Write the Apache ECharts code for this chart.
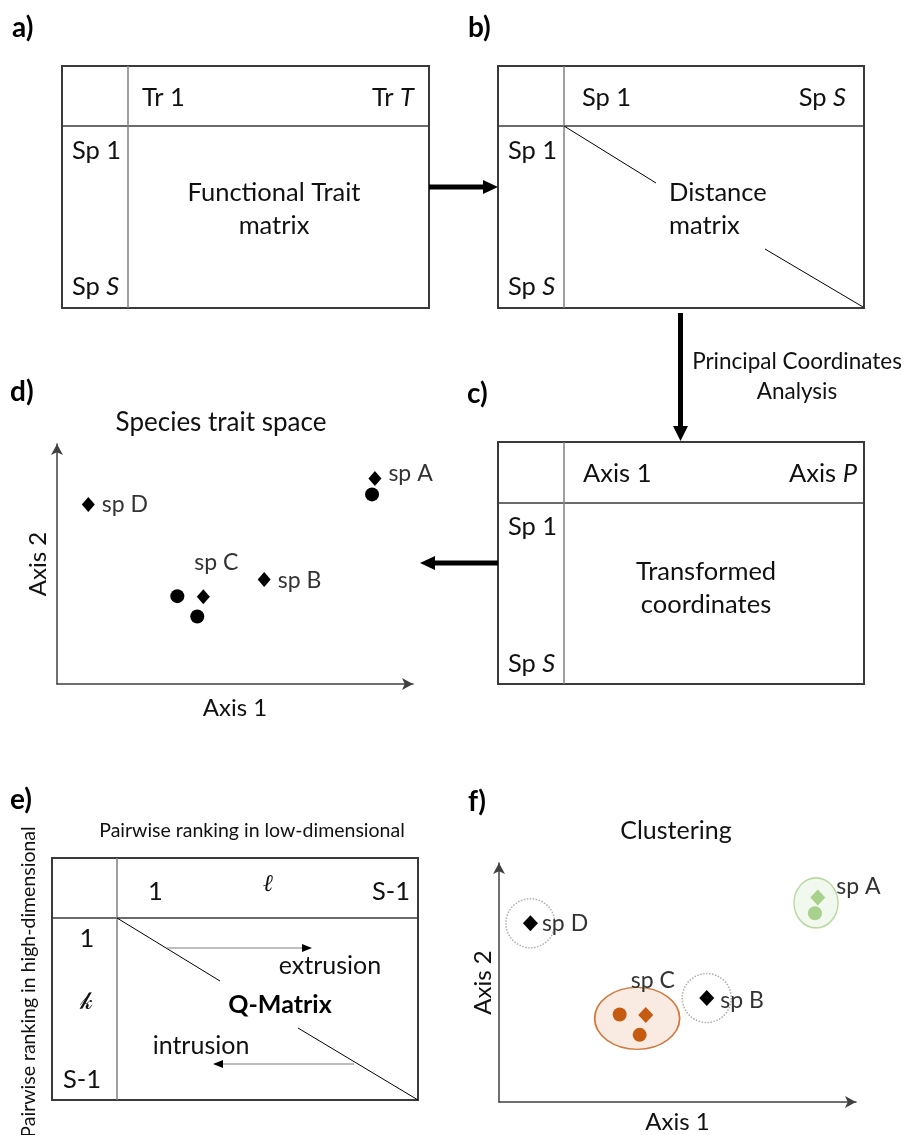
<!DOCTYPE html>
<html>
<head>
<meta charset="utf-8">
<script src="https://cdn.jsdelivr.net/npm/echarts@6/dist/echarts.min.js"></script>
<style>
  html, body { margin: 0; padding: 0; background: #fff; }
  #main { width: 905px; height: 1135px; }
</style>
</head>
<body>
<div id="main"></div>
<script>
// species positions in trait space (axis units 0-100)
var speciesNames = ['sp A', 'sp B', 'sp C', 'sp D'];
var speciesX = [89.3, 58.2, 41.1, 8.8];
var speciesY = [85.6, 43.5, 36.4, 74.8];
// extra individuals (circles) and the species they belong to
var extraOf = ['sp A', 'sp C', 'sp C'];
var extraX = [88.5, 33.8, 39.4];
var extraY = [79.0, 36.6, 28.1];
// clustering result
var clusterNames = ['cluster A', 'cluster C', 'single B', 'single D'];
var clusterX = [88.8, 38.7, 58.2, 8.8];
var clusterY = [83.3, 35.0, 43.5, 74.8];
var speciesCluster = { 'sp A': 0, 'sp B': -1, 'sp C': 1, 'sp D': -1 };

// matrix labels
var traitHeader = ['Tr 1', 'Tr T'];
var distHeader = ['Sp 1', 'Sp S'];
var pcoaHeader = ['Axis 1', 'Axis P'];
var rowLabels = ['Sp 1', 'Sp S'];
var rankHeader = ['1', '\u2113', 'S-1'];
var rankRows = ['1', '\uD835\uDCC0', 'S-1'];

var FONT = 'Lato, "Open Sans", sans-serif';
var INK = '#111';
var MT = 25.5; // matrix text size
var ORANGE = '#C55A11', GREEN = '#A9D18E';

function txt(x, y, s, size, extra) {
  var st = { text: s, fill: INK, fontSize: size, fontFamily: FONT, align: 'left', verticalAlign: 'middle' };
  for (var k in extra) st[k] = extra[k];
  return { type: 'text', x: x, y: y, z: 10, style: st };
}
// header text with italic last letter, e.g. "Tr T"
function itxt(x, y, s, size, align) {
  var parts = s.split(' ');
  return {
    type: 'text', x: x, y: y, z: 10,
    style: {
      text: '{n|' + parts[0] + ' }{i|' + parts[1] + '}',
      align: align, verticalAlign: 'middle',
      rich: {
        n: { fontSize: size, fontFamily: FONT, fill: INK },
        i: { fontSize: size, fontFamily: FONT, fill: INK, fontStyle: 'italic' }
      }
    }
  };
}
function line(x1, y1, x2, y2, color, w) {
  return { type: 'line', z: 5, shape: { x1: x1, y1: y1, x2: x2, y2: y2 }, style: { stroke: color, lineWidth: w } };
}
function poly(pts, color) {
  return { type: 'polygon', z: 6, shape: { points: pts }, style: { fill: color } };
}
function box(x, y, w, h, headY, colX) {
  return [
    { type: 'rect', z: 4, shape: { x: x, y: y, width: w, height: h }, style: { fill: 'none', stroke: '#3a3a3a', lineWidth: 2 } },
    line(x, headY, x + w, headY, '#3a3a3a', 1.5),
    line(colX, y, colX, y + h, '#7f7f7f', 1.5)
  ];
}

var g = [];
// panel letters
[['a)', 12, 28], ['b)', 468, 28], ['c)', 467, 394], ['d)', 10, 392], ['e)', 10, 800], ['f)', 468, 802]].forEach(function (p) {
  g.push(txt(p[1], p[2], p[0], 28, { fontWeight: 'bold', fill: '#000' }));
});

// a) functional trait matrix
g = g.concat(box(62, 66, 367, 242, 126, 128));
g.push(txt(142, 98, traitHeader[0], MT));
g.push(itxt(414, 98, traitHeader[1], MT, 'right'));
g.push(txt(72, 151, rowLabels[0], MT));
g.push(itxt(72, 287, rowLabels[1], MT, 'left'));
g.push(txt(274, 209, 'Functional Trait\nmatrix', MT, { align: 'center', lineHeight: 33 }));

// a -> b arrow
g.push(line(429, 187, 485, 187, '#000', 5));
g.push(poly([[483, 180], [498, 187], [483, 194]], '#000'));

// b) distance matrix
g = g.concat(box(498, 66, 366, 242, 126, 564));
g.push(txt(582, 98, distHeader[0], MT));
g.push(itxt(846, 98, distHeader[1], MT, 'right'));
g.push(txt(508, 151, rowLabels[0], MT));
g.push(itxt(508, 287, rowLabels[1], MT, 'left'));
g.push(line(564, 126, 656, 183, '#000', 1));
g.push(line(765, 249, 863, 307, '#000', 1));
g.push(txt(669, 209, 'Distance\nmatrix', MT, { lineHeight: 33 }));

// b -> c arrow
g.push(line(680.5, 313, 680.5, 428, '#000', 5));
g.push(poly([[673, 426], [680.5, 441], [688, 426]], '#000'));
g.push(txt(797, 377, 'Principal Coordinates\nAnalysis', 22.5, { align: 'center', lineHeight: 30 }));

// c) transformed coordinates
g = g.concat(box(498, 442, 366, 242, 503, 564));
g.push(txt(583, 474, pcoaHeader[0], MT));
g.push(itxt(857, 474, pcoaHeader[1], MT, 'right'));
g.push(txt(508, 527, rowLabels[0], MT));
g.push(itxt(508, 664, rowLabels[1], MT, 'left'));
g.push(txt(706, 588, 'Transformed\ncoordinates', MT, { align: 'center', lineHeight: 33 }));

// c -> d arrow
g.push(line(498, 563, 433, 563, '#000', 5));
g.push(poly([[435, 556], [420, 563], [435, 570]], '#000'));

// d) title
g.push(txt(221, 423, 'Species trait space', 26, { align: 'center' }));

// e) Q-matrix
g.push(txt(252, 831, 'Pairwise ranking in low-dimensional', 19.5, { align: 'center' }));
var vt = txt(29, 982, 'Pairwise ranking in high-dimensional', 19.5, { align: 'center' });
vt.rotation = Math.PI / 2;
g.push(vt);
g = g.concat(box(52, 858, 366, 242, 918, 117));
g.push(txt(148, 892, rankHeader[0], MT));
g.push(txt(268, 885, rankHeader[1], 24, { align: 'center', fontFamily: '"DejaVu Serif", serif', fontStyle: 'italic' }));
g.push(txt(410, 892, rankHeader[2], MT, { align: 'right' }));
g.push(txt(87, 939, rankRows[0], MT, { align: 'center' }));
g.push(txt(86, 1003, rankRows[1], 24, { align: 'center', fontFamily: '"DejaVu Serif", "DejaVu Sans", serif' }));
g.push(txt(82, 1080, rankRows[2], MT, { align: 'center' }));
g.push(line(117, 918, 220, 981, '#000', 1));
g.push(line(298, 1028, 418, 1100, '#000', 1));
g.push(line(167, 948, 304, 948, '#7f7f7f', 1.2));
g.push(poly([[302, 944], [312, 948], [302, 952]], '#000'));
g.push(txt(330, 966, 'extrusion', 25, { align: 'center' }));
g.push(txt(280, 1005, 'Q-Matrix', 25, { align: 'center', fontWeight: 'bold', fill: '#000' }));
g.push(txt(201, 1046, 'intrusion', 25, { align: 'center' }));
g.push(line(354, 1064, 221, 1064, '#7f7f7f', 1.2));
g.push(poly([[223, 1060], [213, 1064], [223, 1068]], '#000'));

// f) title
g.push(txt(676, 831, 'Clustering', 25, { align: 'center' }));

// label placement for the two trait-space panels
var labelD = {
  'sp A': { position: 'right', distance: 7, offset: [0, -5] },
  'sp B': { position: 'right', distance: 7, offset: [0, 1] },
  'sp C': { position: 'top', distance: 5, offset: [13, -10] },
  'sp D': { position: 'right', distance: 7 }
};
var labelF = {
  'sp A': { position: 'right', distance: 11, offset: [0, -11] },
  'sp B': { position: 'right', distance: 6, offset: [0, 3] },
  'sp C': { position: 'top', distance: 5, offset: [7, -10] },
  'sp D': { position: 'right', distance: 4 }
};
var clusterStyle = [
  { symbolSize: [44, 50], itemStyle: { color: '#EEF6E9', borderColor: GREEN, borderWidth: 1.5 } },
  { symbolSize: [85, 62], itemStyle: { color: '#F8E6DB', borderColor: ORANGE, borderWidth: 1.5 } },
  { symbolSize: 49, itemStyle: { color: 'rgba(0,0,0,0)', borderColor: '#9a9a9a', borderWidth: 1.5, borderType: 'dotted' } },
  { symbolSize: 49, itemStyle: { color: 'rgba(0,0,0,0)', borderColor: '#9a9a9a', borderWidth: 1.5, borderType: 'dotted' } }
];
function colorOf(name) {
  var c = speciesCluster[name];
  return c === 0 ? GREEN : c === 1 ? ORANGE : '#000';
}

function axisPair(idx, gap2, gap1, size) {
  var common = {
    gridIndex: idx, type: 'value', min: 0, max: 100,
    nameLocation: 'middle', nameTextStyle: { fontSize: size, fontFamily: FONT, color: INK },
    axisLine: { show: true, symbol: ['none', 'arrow'], symbolSize: [9, 11], lineStyle: { color: '#404040', width: 1.5 } },
    axisTick: { show: false }, axisLabel: { show: false }, splitLine: { show: false }
  };
  return {
    x: Object.assign({}, common, { name: 'Axis 1', nameGap: gap1 }),
    y: Object.assign({}, common, { name: 'Axis 2', nameGap: gap2 })
  };
}
var axD = axisPair(0, 7, 12, 24);
var axF = axisPair(1, 4, 8, 24);

var option = {
  backgroundColor: '#fff',
  animation: false,
  grid: [
    { left: 57, top: 444, width: 356, height: 240 },
    { left: 499, top: 863, width: 357, height: 240 }
  ],
  xAxis: [axD.x, axF.x],
  yAxis: [axD.y, axF.y],
  graphic: g,
  series: [
    {
      type: 'scatter', xAxisIndex: 0, yAxisIndex: 0, symbol: 'diamond', symbolSize: [13, 15],
      itemStyle: { color: '#000', opacity: 1 },
      label: { show: true, formatter: '{b}', fontSize: 23, fontFamily: FONT, color: '#333' },
      data: speciesNames.map(function (n, i) {
        return { name: n, value: [speciesX[i], speciesY[i]], label: labelD[n] };
      })
    },
    {
      type: 'scatter', xAxisIndex: 0, yAxisIndex: 0, symbol: 'circle', symbolSize: 14,
      itemStyle: { color: '#000', opacity: 1 },
      data: extraOf.map(function (n, i) { return { name: n, value: [extraX[i], extraY[i]] }; })
    },
    {
      type: 'scatter', xAxisIndex: 1, yAxisIndex: 1, symbol: 'circle', z: 1, silent: true,
      data: clusterNames.map(function (n, i) {
        return { name: n, value: [clusterX[i], clusterY[i]], symbolSize: clusterStyle[i].symbolSize, itemStyle: clusterStyle[i].itemStyle };
      })
    },
    {
      type: 'scatter', xAxisIndex: 1, yAxisIndex: 1, symbol: 'diamond', symbolSize: [15, 16], z: 3,
      label: { show: true, formatter: '{b}', fontSize: 23, fontFamily: FONT, color: '#333' },
      data: speciesNames.map(function (n, i) {
        return { name: n, value: [speciesX[i], speciesY[i]], itemStyle: { color: colorOf(n), opacity: 1 }, label: labelF[n] };
      })
    },
    {
      type: 'scatter', xAxisIndex: 1, yAxisIndex: 1, symbol: 'circle', symbolSize: 14, z: 3,
      data: extraOf.map(function (n, i) {
        return { name: n, value: [extraX[i], extraY[i]], itemStyle: { color: colorOf(n), opacity: 1 } };
      })
    }
  ]
};

var chart = echarts.init(document.getElementById('main'), null, { renderer: 'canvas' });
chart.setOption(option);
</script>
</body>
</html>
